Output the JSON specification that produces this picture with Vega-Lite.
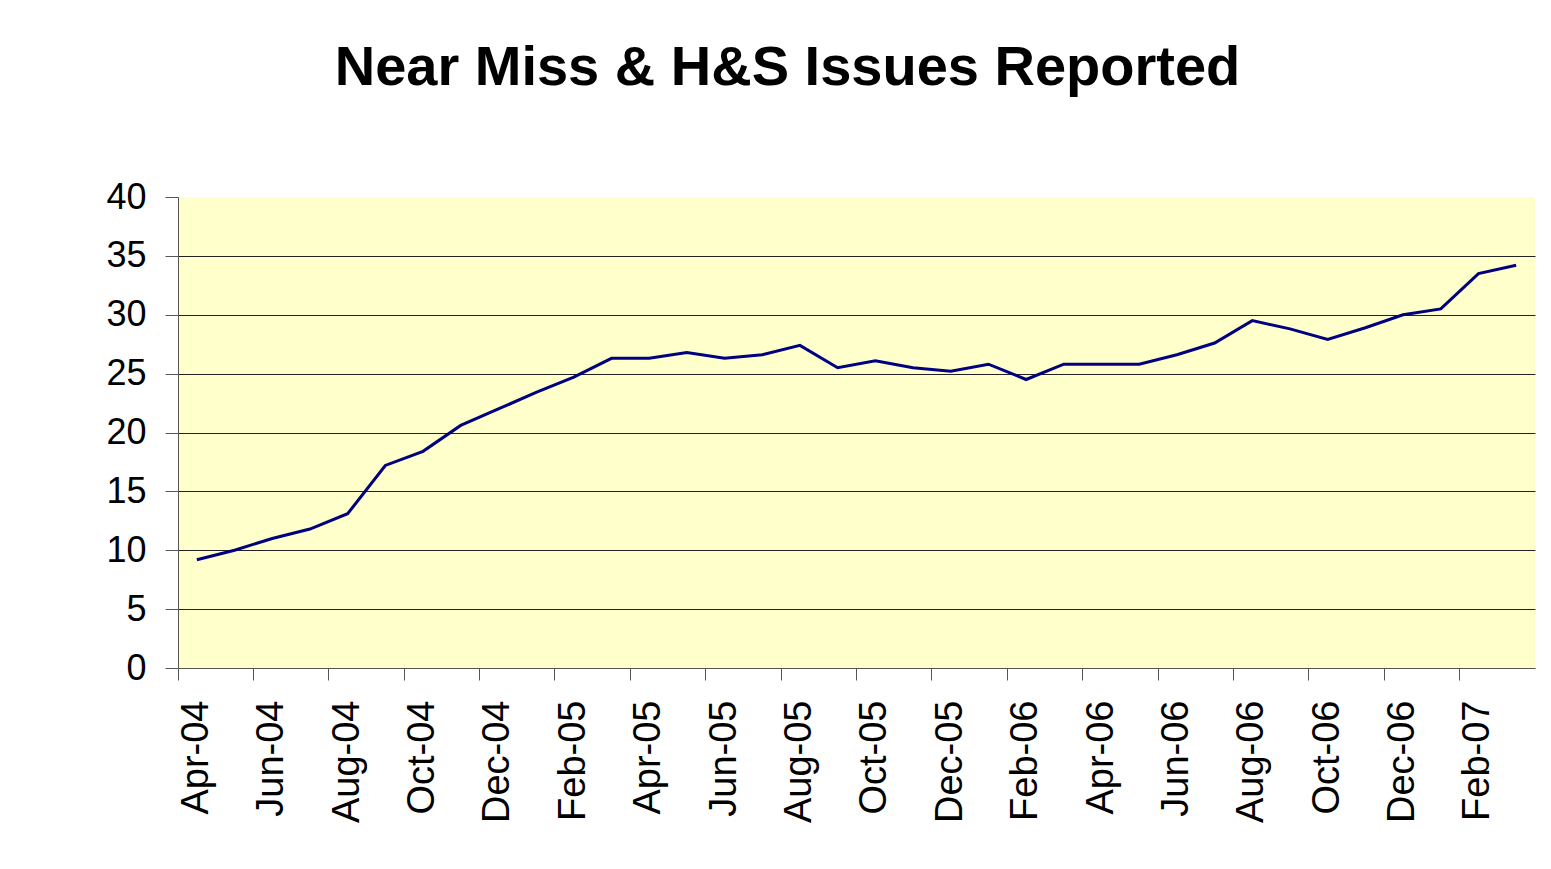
{
  "$schema": "https://vega.github.io/schema/vega-lite/v6.json",
  "width": 1357,
  "height": 471,
  "autosize": "none",
  "padding": {"left": 178, "top": 197, "right": 16, "bottom": 201},
  "background": "white",
  "title": {
    "text": "Near Miss & H&S Issues Reported",
    "font": "Liberation Sans",
    "fontSize": 56,
    "fontWeight": "bold",
    "color": "black",
    "anchor": "middle",
    "dx": -69,
    "offset": 38,
    "baseline": "alphabetic"
  },
  "data": {
    "values": [
      {"month": "Apr-04", "issues": 9.2},
      {"month": "May-04", "issues": 10.0},
      {"month": "Jun-04", "issues": 11.0},
      {"month": "Jul-04", "issues": 11.8},
      {"month": "Aug-04", "issues": 13.1},
      {"month": "Sep-04", "issues": 17.2},
      {"month": "Oct-04", "issues": 18.4},
      {"month": "Nov-04", "issues": 20.6},
      {"month": "Dec-04", "issues": 22.0},
      {"month": "Jan-05", "issues": 23.4},
      {"month": "Feb-05", "issues": 24.7},
      {"month": "Mar-05", "issues": 26.3},
      {"month": "Apr-05", "issues": 26.3},
      {"month": "May-05", "issues": 26.8},
      {"month": "Jun-05", "issues": 26.3},
      {"month": "Jul-05", "issues": 26.6},
      {"month": "Aug-05", "issues": 27.4},
      {"month": "Sep-05", "issues": 25.5},
      {"month": "Oct-05", "issues": 26.1},
      {"month": "Nov-05", "issues": 25.5},
      {"month": "Dec-05", "issues": 25.2},
      {"month": "Jan-06", "issues": 25.8},
      {"month": "Feb-06", "issues": 24.5},
      {"month": "Mar-06", "issues": 25.8},
      {"month": "Apr-06", "issues": 25.8},
      {"month": "May-06", "issues": 25.8},
      {"month": "Jun-06", "issues": 26.6},
      {"month": "Jul-06", "issues": 27.6},
      {"month": "Aug-06", "issues": 29.5},
      {"month": "Sep-06", "issues": 28.8},
      {"month": "Oct-06", "issues": 27.9},
      {"month": "Nov-06", "issues": 28.9},
      {"month": "Dec-06", "issues": 30.0},
      {"month": "Jan-07", "issues": 30.5},
      {"month": "Feb-07", "issues": 33.5},
      {"month": "Mar-07", "issues": 34.2}
    ]
  },
  "mark": {"type": "line", "color": "#000080", "strokeWidth": 3},
  "encoding": {
    "x": {
      "field": "month",
      "type": "ordinal",
      "sort": null,
      "bandPosition": 0.5,
      "scale": {"type": "band", "paddingInner": 0, "paddingOuter": 0},
      "axis": {
        "title": null,
        "values": ["Apr-04", "Jun-04", "Aug-04", "Oct-04", "Dec-04", "Feb-05", "Apr-05", "Jun-05", "Aug-05", "Oct-05", "Dec-05", "Feb-06", "Apr-06", "Jun-06", "Aug-06", "Oct-06", "Dec-06", "Feb-07"],
        "bandPosition": 0,
        "labelAngle": -90,
        "labelAlign": "right",
        "labelBaseline": "middle",
        "labelFont": "Liberation Sans",
        "labelFontSize": 38,
        "labelColor": "black",
        "labelPadding": 20,
        "labelOverlap": false,
        "labelFlush": false,
        "tickSize": 12,
        "tickColor": "#555555",
        "domainColor": "#555555",
        "grid": false
      }
    },
    "y": {
      "field": "issues",
      "type": "quantitative",
      "scale": {"domain": [0, 40], "nice": false},
      "axis": {
        "title": null,
        "values": [0, 5, 10, 15, 20, 25, 30, 35, 40],
        "labelFont": "Liberation Sans",
        "labelFontSize": 36,
        "labelColor": "black",
        "labelPadding": 19,
        "labelFlush": false,
        "tickSize": 13,
        "tickColor": "#555555",
        "domainColor": "#555555",
        "grid": true,
        "gridColor": "#222222",
        "gridOpacity": {"condition": {"test": "datum.value >= 40 || datum.value <= 0", "value": 0}, "value": 1}
      }
    }
  },
  "config": {"view": {"fill": "#FFFFCC", "stroke": null}}
}
